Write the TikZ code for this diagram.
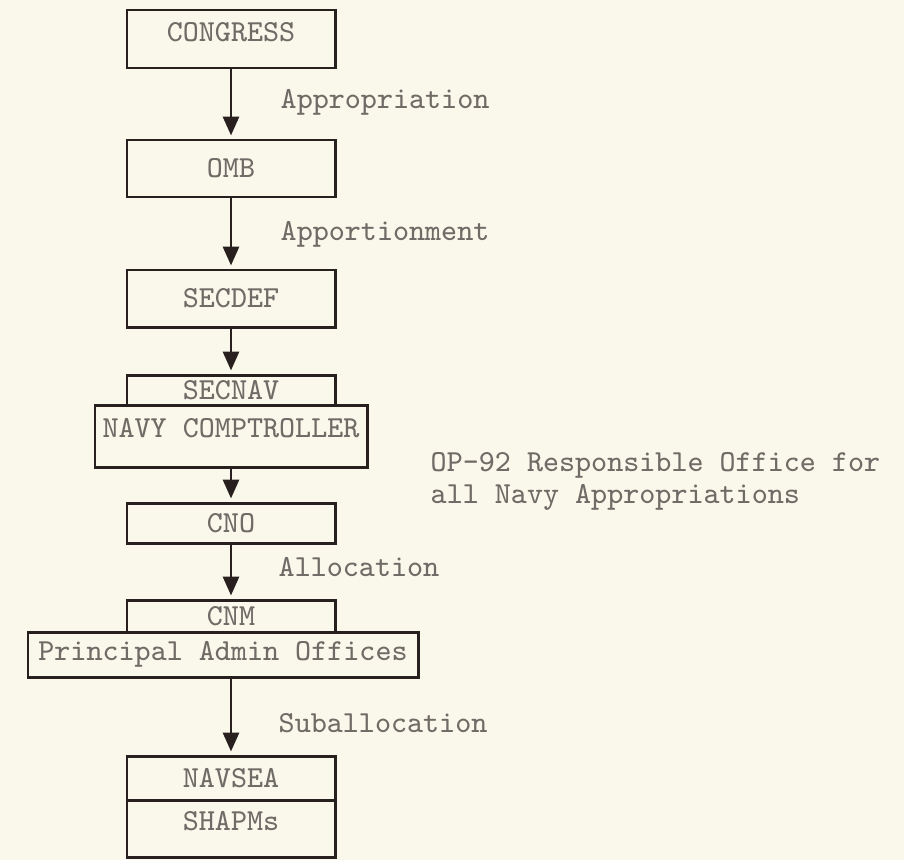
\documentclass[tikz,border=0pt]{standalone}
\usepackage{fontspec}
\usepackage{tikz}
\usetikzlibrary{arrows.meta}
\definecolor{paper}{RGB}{250,248,235}
\definecolor{ink}{RGB}{40,32,30}
\definecolor{typed}{RGB}{112,107,102}

\begin{document}
\begin{tikzpicture}[>={Triangle[width=1.6mm, length=1.9mm]},
    font=\ttfamily\fontsize{8.7}{9.1}\selectfont,
    box/.style={draw=ink, line width=0.85pt, minimum width=2.08cm, inner sep=0pt, text=typed},
    lbl/.style={anchor=base west, inner sep=0pt, text=typed}]
    
    \fill[paper] (0,0) rectangle (9.04,-8.60);
    \useasboundingbox (0,0) rectangle (9.04,-8.60);
    
    \node[box, minimum height=0.58cm, text depth=0.14cm] (congress) at (2.31,-0.39) {CONGRESS};
    \node[box, minimum height=0.57cm] (omb) at (2.31,-1.685) {OMB};
    \node[box, minimum height=0.57cm] (secdef) at (2.31,-2.985) {SECDEF};
    \node[box, minimum height=0.30cm] (secnav) at (2.31,-3.90) {SECNAV};
    \node[box, minimum width=2.72cm, minimum height=0.62cm, text depth=0.16cm] (comptroller) at (2.31,-4.36) {NAVY COMPTROLLER};
    \node[box, minimum height=0.40cm] (cno) at (2.31,-5.23) {CNO};
    \node[box, minimum height=0.32cm] (cnm) at (2.31,-6.16) {CNM};
    \node[box, minimum width=3.90cm, minimum height=0.45cm] (pao) at (2.23,-6.545) {Principal Admin Offices};
    \node[box, minimum height=0.44cm] (navsea) at (2.31,-7.78) {NAVSEA};
    \node[box, minimum height=0.57cm, text depth=0.16cm] (shapms) at (2.31,-8.285) {SHAPMs};
    
    \node[lbl] (approp) at (2.80,-1.08) {Appropriation};
    \node[lbl] (apport) at (2.80,-2.40) {Apportionment};
    \node[lbl] (alloc) at (2.78,-5.76) {Allocation};
    \node[lbl] (suballoc) at (2.78,-7.32) {Suballocation};
    \node[lbl, align=left] (op92) at (4.30,-5.03) {OP-92 Responsible Office for\\all Navy Appropriations};
    
    \draw[ink, line width=0.85pt, ->, shorten >=0.03cm] (congress) -- (omb);
    \draw[ink, line width=0.85pt, ->, shorten >=0.03cm] (omb) -- (secdef);
    \draw[ink, line width=0.85pt, ->, shorten >=0.03cm] (secdef) -- (secnav);
    \draw[ink, line width=0.85pt, ->, shorten >=0.03cm] (comptroller) -- (cno);
    \draw[ink, line width=0.85pt, ->, shorten >=0.03cm] (cno) -- (cnm);
    \draw[ink, line width=0.85pt, ->, shorten >=0.03cm] (pao.south -| navsea.north) -- (navsea.north);
\end{tikzpicture}
\end{document}
